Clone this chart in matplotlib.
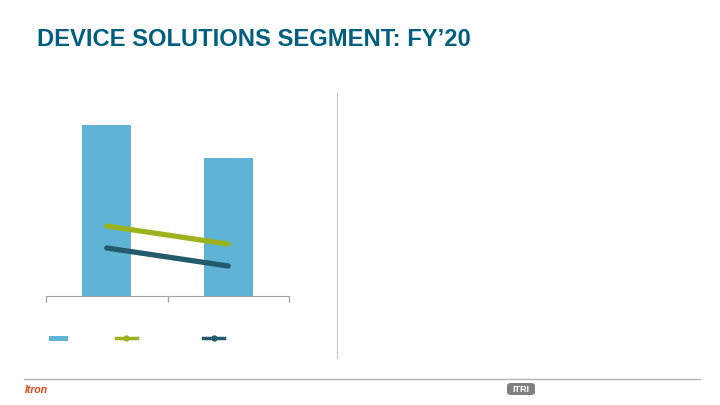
import numpy as np
import matplotlib.pyplot as plt
from matplotlib.patches import Rectangle, FancyBboxPatch
from matplotlib.lines import Line2D

# Chart data (no labels are shown)
years = ['FY19', 'FY20']
revenue = [872, 704]          # bars, left axis (0-1000)
gross_margin = [35.7, 26.5]   # green line, right axis (0-100)
op_margin = [24.5, 15.3]      # dark line, right axis (0-100)

bar_color = '#5fb4d6'
green = '#9cb21e'
dark = '#235a6c'
title_color = '#005f7f'

plt.rcParams['font.family'] = ['Liberation Sans', 'DejaVu Sans']

fig = plt.figure(figsize=(7.2, 4.05), dpi=100)
W, H = 720, 405

fig.text(37 / W, 1 - 40 / H, 'DEVICE SOLUTIONS SEGMENT: FY’20', fontsize=17.1,
         fontweight='bold', color=title_color, va='center', ha='left')

ax = fig.add_axes([46 / W, 1 - 296 / H, 243 / W, 196 / H])
x = np.arange(len(years))
ax.bar(x, revenue, width=0.405, color=bar_color, zorder=1)
ax.set_xlim(-0.5, 1.5)
ax.set_ylim(0, 1000)
ax.set_xticks([-0.5, 0.5, 1.5])
ax.set_xticklabels([])
ax.tick_params(axis='x', length=4, color='#a6a6a6', width=1)
ax.set_yticks([])
for s in ['top', 'right', 'left']:
    ax.spines[s].set_visible(False)
ax.spines['bottom'].set_color('#a6a6a6')
ax.patch.set_alpha(0)

ax2 = ax.twinx()
ax2.plot(x, gross_margin, color=green, lw=3.8, solid_capstyle='round')
ax2.plot(x, op_margin, color=dark, lw=3.8, solid_capstyle='round')
ax2.set_ylim(0, 100)
ax2.set_yticks([])
for s in ax2.spines.values():
    s.set_visible(False)

# legend glyphs (labels are blank on the slide)
fig.add_artist(Rectangle((49 / W, 1 - 341 / H), 19 / W, 5 / H,
                         transform=fig.transFigure, color=bar_color, lw=0))
for x0, c in [(116, green), (203, dark)]:
    fig.add_artist(Line2D([x0 / W, (x0 + 21) / W], [1 - 338 / H] * 2,
                          transform=fig.transFigure, color=c, lw=2.5))
    fig.add_artist(Line2D([(x0 + 10.5) / W], [1 - 338 / H], marker='o', ms=3.5,
                          transform=fig.transFigure, color=c))

# separator and footer
fig.add_artist(Line2D([337 / W] * 2, [1 - 93 / H, 1 - 358 / H],
                      transform=fig.transFigure, color='#c8c8c8', lw=0.8))
fig.add_artist(Line2D([24 / W, 700 / W], [1 - 379 / H] * 2,
                      transform=fig.transFigure, color='#b4b4b4', lw=1))
fig.text(25 / W, 1 - 390 / H, 'Itron', fontsize=7.5, fontweight='bold',
         style='italic', color='#e8441c', va='center', ha='left')
fig.add_artist(FancyBboxPatch((507 / W, 1 - 395 / H), 28 / W, 12 / H,
                              boxstyle='round,pad=0,rounding_size=0.006',
                              transform=fig.transFigure, color='#7f7f7f', lw=0))
fig.text(521 / W, 1 - 389 / H, 'ITRI', fontsize=6.5, fontweight='bold',
         color='white', va='center', ha='center')

fig.savefig('out.png', dpi=100)
